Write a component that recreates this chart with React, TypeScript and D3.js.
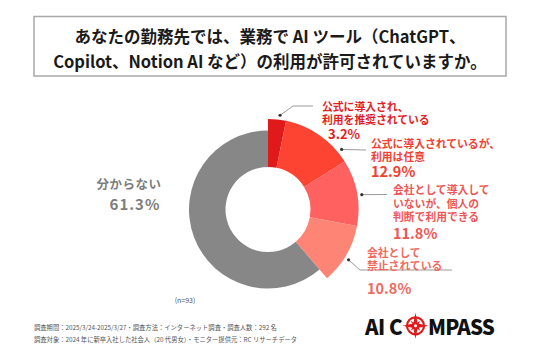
import React from "react";
import * as d3 from "d3";

const categories = [
  "公式に導入され、利用を推奨されている",
  "公式に導入されているが、利用は任意",
  "会社として導入していないが、個人の判断で利用できる",
  "会社として禁止されている",
  "分からない",
];
const values = [3.2, 12.9, 11.8, 10.8, 61.3];
const labelLines = [
  ["公式に導入され、", "利用を推奨されている"],
  ["公式に導入されているが、", "利用は任意"],
  ["会社として導入して", "いないが、個人の", "判断で利用できる"],
  ["会社として", "禁止されている"],
  ["分からない"],
];
const titleLines = [
  "あなたの勤務先では、業務で AI ツール（ChatGPT、",
  "Copilot、Notion AI など）の利用が許可されていますか。",
];
const footLines = [
  "調査期間：2025/3/24-2025/3/27・調査方法：インターネット調査・調査人数：292 名",
  "調査対象：2024 年に新卒入社した社会人（20 代男女）・モニター提供元：RC リサーチデータ",
];
const sampleNote = "(n=93)";

const sliceColors = ["#e01a1a", "#fd4433", "#fe6160", "#fe8476", "#878787"];
const textColors = ["#e11d1d", "#f0402f", "#ef5655", "#f06a60", "#7d7d7d"];

// annotation layout (positions only)
const labelLayout = [
  { x: 322, y: 105.7, px: 328, py: 133, pSize: 13, dotAngle: 7.3, elbow: [293, 106], end: [313, 106] },
  { x: 371, y: 142.7, px: 371, py: 170, pSize: 14.5, dotAngle: 50.8, elbow: null, end: [366, 150] },
  { x: 393, y: 189.3, px: 393, py: 232.5, pSize: 14.5, dotAngle: 81, elbow: null, end: [387, 194.5] },
  { x: 367, y: 252, px: 367, py: 287, pSize: 14.5, dotAngle: 122, elbow: [360, 270], end: [452, 270] },
];

const W = 536, H = 357;
const cx = 268, cy = 209.5;
const rInner = 42.5, rOuterRed = 90.5, rOuterGrey = 79;
const FONT = "'Noto Sans CJK JP', 'Noto Sans', sans-serif";

export default function App() {
  const pie = d3.pie<number>().sort(null).startAngle(0).endAngle(2 * Math.PI).value((d) => d);
  const arcs = pie(values);
  const arcGen = d3.arc<d3.PieArcDatum<number>>().innerRadius(rInner);
  const dotR = 95;

  return (
    <div style={{ position: "absolute", left: 0, top: 0, background: "#fff" }}>
      <svg width={W} height={H} viewBox={`0 0 ${W} ${H}`} style={{ display: "block", fontFamily: FONT }}>
        <rect width={W} height={H} fill="#fff" />
        {/* title */}
        <rect x={34} y={16.5} width={472} height={59.5} fill="#fff" stroke="#a8a8a8" strokeWidth={1.5} />
        {titleLines.map((t, i) => (
          <text key={i} x={270} y={36 + i * 24.5} textAnchor="middle" dominantBaseline="central"
            fontSize={16.5} fontWeight={700} fill="#1a1a1a">{t}</text>
        ))}
        {/* donut */}
        <g transform={`translate(${cx},${cy})`}>
          {arcs.map((a, i) => (
            <path key={categories[i]} d={arcGen.outerRadius(i < 4 ? rOuterRed : rOuterGrey)(a) || ""}
              fill={sliceColors[i]} />
          ))}
        </g>
        {/* leader lines & labels */}
        {labelLayout.map((L, i) => {
          const ang = (L.dotAngle * Math.PI) / 180;
          const dx = cx + dotR * Math.sin(ang);
          const dy = cy - dotR * Math.cos(ang);
          const pts = [[dx, dy], ...(L.elbow ? [L.elbow] : []), L.end];
          return (
            <g key={i}>
              <polyline points={pts.map((p) => p.join(",")).join(" ")} fill="none" stroke="#9a9a9a" strokeWidth={1} />
              <circle cx={dx} cy={dy} r={1.6} fill="#333" />
              {labelLines[i].map((t, j) => (
                <text key={j} x={L.x} y={L.y + j * 13.4} dominantBaseline="central" fontSize={10.8}
                  fontWeight={700} fill={textColors[i]}>{t}</text>
              ))}
              <text x={L.px} y={L.py} dominantBaseline="central" fontSize={L.pSize} fontWeight={700}
                fill={textColors[i]}>{values[i].toFixed(1)}%</text>
            </g>
          );
        })}
        {/* grey label */}
        <text x={129} y={183.5} textAnchor="middle" dominantBaseline="central" fontSize={12.5} fontWeight={700}
          fill={textColors[4]} letterSpacing={0.5}>{labelLines[4][0]}</text>
        <text x={135} y={203.5} textAnchor="middle" dominantBaseline="central" fontSize={15} fontWeight={700}
          fill={textColors[4]} letterSpacing={1}>{values[4].toFixed(1)}%</text>
        <text x={185} y={299.5} textAnchor="middle" dominantBaseline="central" fontSize={7} fill="#555">{sampleNote}</text>
        {/* footer */}
        {footLines.map((t, i) => (
          <text key={i} x={34} y={327.5 + i * 11.5} dominantBaseline="central" fontSize={6.3} fill="#555">{t}</text>
        ))}
        {/* logo */}
        <g fontFamily="'Noto Sans CJK JP', Roboto, sans-serif" fontWeight={900} fontSize={20.5} fill="#111">
          <text x={365} y={325.8} dominantBaseline="central" letterSpacing={-0.5}>AI C</text>
          <g transform="translate(415.5,325.8)">
            <circle r={8.5} fill="none" stroke="#e01a1a" strokeWidth={2.2} />
            <path d="M0,-13 L2.2,-2.2 L13,0 L2.2,2.2 L0,13 L-2.2,2.2 L-13,0 L-2.2,-2.2 Z" fill="#e01a1a" />
            <path d="M0,-7 L1.4,-1.4 L7,0 L1.4,1.4 L0,7 L-1.4,1.4 L-7,0 L-1.4,-1.4 Z" fill="#e01a1a"
              transform="rotate(45)" />
            <circle r={1.5} fill="#fff" />
          </g>
          <text x={428} y={325.8} dominantBaseline="central" letterSpacing={-0.8}>MPASS</text>
        </g>
      </svg>
    </div>
  );
}
